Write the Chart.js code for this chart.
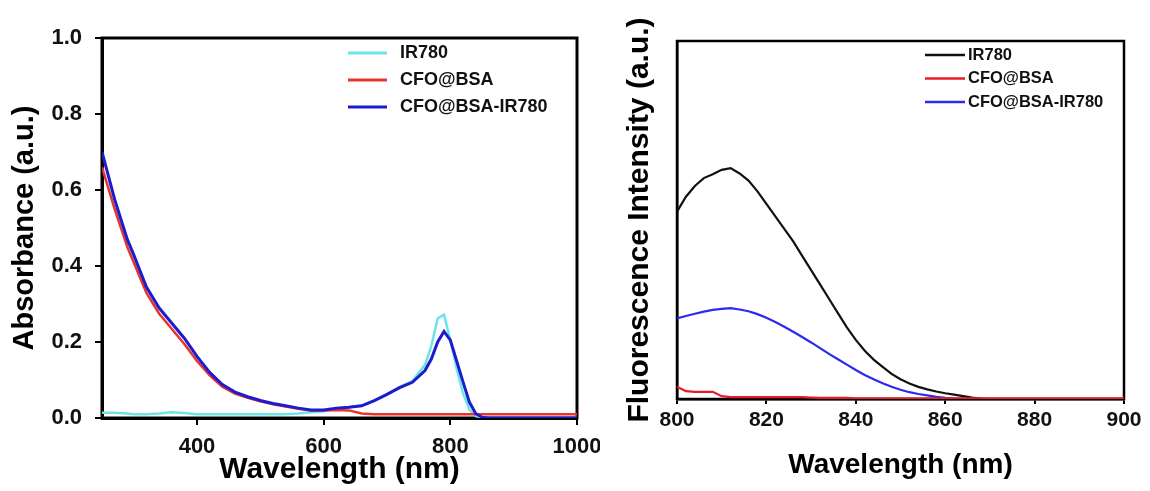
<!DOCTYPE html>
<html>
<head>
<meta charset="utf-8">
<title>Absorbance and fluorescence spectra</title>
<script src="https://cdn.jsdelivr.net/npm/chart.js@4.4.0/dist/chart.umd.min.js"></script>
<style>
  body { margin: 0; background: #fff; }
  #absBox { position: absolute; left: 0; top: 0; width: 600px; height: 491px; }
  #fluBox { position: absolute; left: 600px; top: 0; width: 550px; height: 491px; }
</style>
</head>
<body>
<div id="absBox"><canvas id="absChart" width="600" height="491"></canvas></div>
<div id="fluBox"><canvas id="fluChart" width="550" height="491"></canvas></div>
<script>
// Series names (same three samples in both panels)
const seriesLabels = ['IR780', 'CFO@BSA', 'CFO@BSA-IR780'];

// Left panel: UV-vis absorbance
const absWavelength = [250, 270, 290, 300, 320, 340, 360, 380, 400, 420, 440, 460, 480, 500, 520, 540, 560, 580, 600, 620, 640, 660, 680, 700, 720, 740, 760, 770, 780, 790, 800, 810, 820, 830, 840, 850, 860, 880, 900, 950, 1000];
const absIR780 = [0.014, 0.014, 0.012, 0.010, 0.010, 0.012, 0.015, 0.013, 0.010, 0.010, 0.010, 0.010, 0.010, 0.010, 0.010, 0.010, 0.012, 0.015, 0.018, 0.024, 0.028, 0.032, 0.046, 0.062, 0.082, 0.097, 0.140, 0.190, 0.262, 0.272, 0.205, 0.130, 0.065, 0.022, 0.005, 0.001, 0, 0, 0, 0, 0];
const absCFOBSA = [0.660, 0.550, 0.450, 0.410, 0.330, 0.275, 0.235, 0.195, 0.150, 0.112, 0.082, 0.064, 0.053, 0.044, 0.036, 0.030, 0.024, 0.020, 0.020, 0.021, 0.020, 0.012, 0.010, 0.010, 0.010, 0.010, 0.010, 0.010, 0.010, 0.010, 0.010, 0.010, 0.010, 0.010, 0.010, 0.010, 0.010, 0.010, 0.010, 0.010, 0.010];
const absCFOBSAIR780 = [0.700, 0.575, 0.470, 0.430, 0.345, 0.290, 0.250, 0.210, 0.162, 0.120, 0.088, 0.068, 0.056, 0.046, 0.038, 0.032, 0.026, 0.021, 0.021, 0.026, 0.028, 0.032, 0.046, 0.062, 0.080, 0.094, 0.125, 0.155, 0.200, 0.228, 0.205, 0.150, 0.095, 0.042, 0.012, 0.002, 0, 0, 0, 0, 0];
const absXTicks = [400, 600, 800, 1000];
const absYTicks = [0, 0.2, 0.4, 0.6, 0.8, 1.0];

// Right panel: fluorescence emission (arbitrary units, no y labels)
const fluWavelength = [800, 802, 804, 806, 808, 810, 812, 814, 816, 818, 820, 822, 824, 826, 828, 830, 832, 834, 836, 838, 840, 842, 844, 846, 848, 850, 852, 854, 856, 858, 860, 862, 864, 866, 868, 870, 880, 890, 900];
const fluIR780 = [0.523, 0.565, 0.595, 0.617, 0.628, 0.640, 0.645, 0.630, 0.610, 0.580, 0.545, 0.510, 0.475, 0.440, 0.400, 0.360, 0.320, 0.280, 0.240, 0.200, 0.165, 0.135, 0.110, 0.090, 0.070, 0.055, 0.043, 0.034, 0.027, 0.021, 0.016, 0.012, 0.008, 0.004, 0.001, 0, 0, 0, 0];
const fluCFOBSA = [0.034, 0.022, 0.020, 0.020, 0.020, 0.008, 0.005, 0.005, 0.005, 0.005, 0.005, 0.005, 0.005, 0.005, 0.005, 0.004, 0.003, 0.003, 0.003, 0.003, 0.002, 0.002, 0.002, 0.002, 0.002, 0.002, 0.002, 0.002, 0.002, 0.002, 0.002, 0.002, 0.002, 0.002, 0.002, 0.002, 0.002, 0.002, 0.002];
const fluCFOBSAIR780 = [0.225, 0.232, 0.238, 0.244, 0.249, 0.252, 0.254, 0.250, 0.245, 0.237, 0.227, 0.215, 0.202, 0.188, 0.173, 0.158, 0.142, 0.126, 0.111, 0.096, 0.081, 0.067, 0.055, 0.044, 0.034, 0.026, 0.019, 0.014, 0.010, 0.006, 0.003, 0.001, 0, 0, 0, 0, 0, 0, 0];
const fluXTicks = [800, 820, 840, 860, 880, 900];

const fontFamily = "'Liberation Sans', Arial, sans-serif";

// Turn two arrays into {x, y} points for a linear x axis
function toPoints(xs, ys) {
    return xs.map(function (x, i) { return { x: x, y: ys[i] }; });
}

// Draw the legend inside the plot box (Chart.js legend can't sit inside the area)
const insideLegend = {
    id: 'insideLegend',
    afterDraw: function (chart, args, opts) {
        const ctx = chart.ctx;
        ctx.save();
        ctx.font = opts.font;
        ctx.textBaseline = 'middle';
        chart.data.datasets.forEach(function (ds, i) {
            const y = opts.top + i * opts.rowHeight;
            ctx.strokeStyle = ds.borderColor;
            ctx.lineWidth = opts.lineWidth;
            ctx.beginPath();
            ctx.moveTo(opts.lineStart, y);
            ctx.lineTo(opts.lineEnd, y);
            ctx.stroke();
            ctx.fillStyle = '#111';
            ctx.fillText(ds.label, opts.textStart, y);
        });
        ctx.restore();
    }
};

// Closed frame around the plot area
const frameBox = {
    id: 'frameBox',
    beforeDatasetsDraw: function (chart, args, opts) {
        const a = chart.chartArea;
        const ctx = chart.ctx;
        ctx.save();
        ctx.strokeStyle = '#000';
        ctx.lineWidth = opts.width;
        ctx.strokeRect(a.left, a.top, a.right - a.left, a.bottom - a.top);
        ctx.restore();
    }
};

function boldFont(size) {
    return { family: fontFamily, size: size, weight: 'bold' };
}

// plain numbers, no thousands separator
function plainLabel(v) {
    return String(v);
}

// ---- Absorbance chart ----
new Chart(document.getElementById('absChart'), {
    type: 'line',
    data: {
        datasets: [
            { label: seriesLabels[0], data: toPoints(absWavelength, absIR780), borderColor: '#6de4e6', borderWidth: 2.5, order: 3 },
            { label: seriesLabels[1], data: toPoints(absWavelength, absCFOBSA), borderColor: '#e8342c', borderWidth: 2.5, order: 2 },
            { label: seriesLabels[2], data: toPoints(absWavelength, absCFOBSAIR780), borderColor: '#1c1ccf', borderWidth: 3, order: 1 }
        ]
    },
    options: {
        responsive: false,
        animation: false,
        layout: { padding: { top: 38, right: 23, left: 0, bottom: 0 } },
        elements: { point: { radius: 0 }, line: { tension: 0 } },
        plugins: {
            legend: { display: false },
            tooltip: { enabled: false },
            insideLegend: { font: 'bold 18px ' + fontFamily, lineStart: 348, lineEnd: 387, textStart: 400, top: 53, rowHeight: 27, lineWidth: 3 },
            frameBox: { width: 3 }
        },
        scales: {
            x: {
                type: 'linear',
                min: 250,
                max: 1000,
                // fixed axis height; the "1000" label may hang into the outer padding
                afterFit: function (s) { s.height = 73; s.paddingRight = 0; },
                afterBuildTicks: function (s) { s.ticks = absXTicks.map(function (v) { return { value: v }; }); },
                grid: { display: true, drawOnChartArea: false, drawTicks: true, tickLength: 7, color: '#000', lineWidth: 2 },
                border: { display: true, color: '#000', width: 3 },
                ticks: { color: '#111', font: boldFont(22), padding: 9, maxRotation: 0, callback: plainLabel },
                title: { display: true, text: 'Wavelength (nm)', color: '#000', font: boldFont(30), padding: { top: 0, bottom: 3 } }
            },
            y: {
                min: 0,
                max: 1,
                afterFit: function (s) { s.width = 102; },
                afterBuildTicks: function (s) { s.ticks = absYTicks.map(function (v) { return { value: v }; }); },
                grid: { display: true, drawOnChartArea: false, drawTicks: true, tickLength: 7, color: '#000', lineWidth: 2 },
                border: { display: true, color: '#000', width: 3 },
                ticks: { color: '#111', font: boldFont(22), padding: 13, callback: function (v) { return v.toFixed(1); } },
                title: { display: true, text: 'Absorbance (a.u.)', color: '#000', font: boldFont(29), padding: { top: 8, bottom: 0 } }
            }
        }
    },
    plugins: [insideLegend, frameBox]
});

// ---- Fluorescence chart ----
new Chart(document.getElementById('fluChart'), {
    type: 'line',
    data: {
        datasets: [
            { label: seriesLabels[0], data: toPoints(fluWavelength, fluIR780), borderColor: '#111111', borderWidth: 2.2, order: 3 },
            { label: seriesLabels[1], data: toPoints(fluWavelength, fluCFOBSA), borderColor: '#e81c28', borderWidth: 2.2, order: 1 },
            { label: seriesLabels[2], data: toPoints(fluWavelength, fluCFOBSAIR780), borderColor: '#2a2af0', borderWidth: 2.2, order: 2 }
        ]
    },
    options: {
        responsive: false,
        animation: false,
        layout: { padding: { top: 41, right: 26, left: 0, bottom: 0 } },
        elements: { point: { radius: 0 }, line: { tension: 0 } },
        plugins: {
            legend: { display: false },
            tooltip: { enabled: false },
            insideLegend: { font: 'bold 16.5px ' + fontFamily, lineStart: 325, lineEnd: 365, textStart: 368, top: 55, rowHeight: 23.5, lineWidth: 2.5 },
            frameBox: { width: 2.5 }
        },
        scales: {
            x: {
                type: 'linear',
                min: 800,
                max: 900,
                afterFit: function (s) { s.height = 92; s.paddingRight = 0; },
                afterBuildTicks: function (s) { s.ticks = fluXTicks.map(function (v) { return { value: v }; }); },
                grid: { display: true, drawOnChartArea: false, drawTicks: true, tickLength: 5, color: '#000', lineWidth: 2 },
                border: { display: true, color: '#000', width: 2.5 },
                ticks: { color: '#111', font: boldFont(21), padding: 4, maxRotation: 0, callback: plainLabel },
                title: { display: true, text: 'Wavelength (nm)', color: '#000', font: boldFont(28), padding: { top: 0, bottom: 9 } }
            },
            y: {
                min: 0,
                max: 1,
                afterFit: function (s) { s.width = 77; },
                grid: { display: false },
                border: { display: true, color: '#000', width: 2.5 },
                ticks: { display: false },
                title: { display: true, text: 'Fluorescence Intensity (a.u.)', color: '#000', font: boldFont(30), padding: { top: 22, bottom: 0 } }
            }
        }
    },
    plugins: [insideLegend, frameBox]
});
</script>
</body>
</html>
